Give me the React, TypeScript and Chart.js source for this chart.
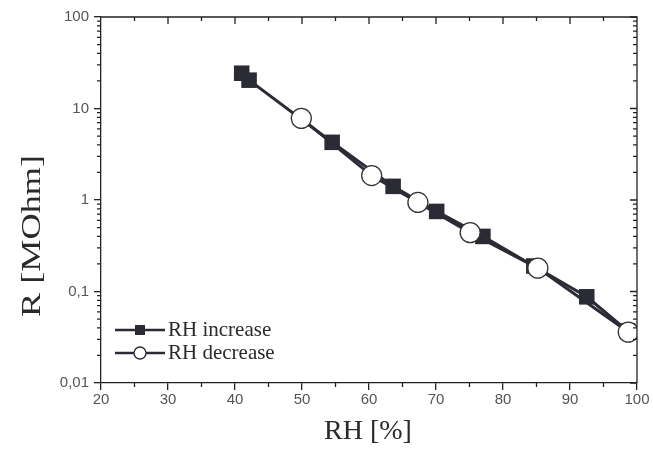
import React, { useEffect, useRef } from "react";
import { Chart, registerables } from "chart.js";

Chart.register(...registerables);

const xIncrease = [41.0, 42.1, 54.5, 63.6, 70.1, 77.0, 84.6, 92.5, 98.6];
const yIncrease = [24.3, 20.4, 4.27, 1.41, 0.75, 0.40, 0.19, 0.0875, 0.037];
const xDecrease = [49.9, 60.4, 67.3, 75.1, 85.2, 98.7];
const yDecrease = [7.8, 1.85, 0.94, 0.44, 0.18, 0.036];
const yMajorTicks = [0.01, 0.1, 1, 10, 100];
const yTickLabels = ["0,01", "0,1", "1", "10", "100"];
const xMinorTicks = [25, 35, 45, 55, 65, 75, 85, 95];
const xMajorTicks = [30, 40, 50, 60, 70, 80, 90];
const seriesLabels = ["RH increase", "RH decrease"];
const xTitle = "RH [%]";
const yTitle = "R [MOhm]";

const INK = "#2b2b36";

const framePlugin = {
  id: "frame",
  afterDraw(chart: any) {
    const ctx = chart.ctx;
    const { left, right, top, bottom } = chart.chartArea;
    const xs = chart.scales.x;
    const ys = chart.scales.y;
    ctx.save();
    ctx.strokeStyle = "#222";
    ctx.lineWidth = 1.3;
    ctx.beginPath();
    ctx.moveTo(left, top);
    ctx.lineTo(right, top);
    ctx.lineTo(right, bottom);
    ctx.stroke();
    ctx.beginPath();
    for (const v of xMinorTicks) {
      const px = xs.getPixelForValue(v);
      ctx.moveTo(px, bottom);
      ctx.lineTo(px, bottom + 4);
      ctx.moveTo(px, top);
      ctx.lineTo(px, top + 4);
    }
    for (const v of xMajorTicks) {
      const px = xs.getPixelForValue(v);
      ctx.moveTo(px, top);
      ctx.lineTo(px, top + 7);
    }
    for (let i = 0; i < yMajorTicks.length - 1; i++) {
      for (let m = 2; m <= 9; m++) {
        const py = ys.getPixelForValue(yMajorTicks[i] * m);
        ctx.moveTo(left - 4, py);
        ctx.lineTo(left, py);
        ctx.moveTo(right - 4, py);
        ctx.lineTo(right, py);
      }
    }
    for (const v of yMajorTicks) {
      const py = ys.getPixelForValue(v);
      ctx.moveTo(right - 7, py);
      ctx.lineTo(right, py);
    }
    ctx.stroke();

    // axis titles
    ctx.fillStyle = "#2a2a2a";
    ctx.font = '28px "Liberation Serif"';
    ctx.textAlign = "center";
    ctx.textBaseline = "middle";
    ctx.fillText(xTitle, 368, 432);
    ctx.save();
    ctx.translate(33, 236);
    ctx.rotate(-Math.PI / 2);
    ctx.font = '27px "Liberation Serif"';
    const w = ctx.measureText(yTitle).width;
    ctx.scale(162 / w, 1);
    ctx.fillText(yTitle, 0, 0);
    ctx.restore();

    // legend
    const rows = [330, 353];
    rows.forEach((ry, i) => {
      ctx.strokeStyle = INK;
      ctx.lineWidth = 2.5;
      ctx.beginPath();
      ctx.moveTo(115, ry);
      ctx.lineTo(165, ry);
      ctx.stroke();
      if (i === 0) {
        ctx.fillStyle = INK;
        ctx.fillRect(135, ry - 5, 10, 10);
      } else {
        ctx.fillStyle = "#fff";
        ctx.lineWidth = 1.3;
        ctx.beginPath();
        ctx.arc(140, ry, 6, 0, Math.PI * 2);
        ctx.fill();
        ctx.stroke();
      }
      ctx.fillStyle = "#2a2a2a";
      ctx.font = '21px "Liberation Serif"';
      ctx.textAlign = "left";
      ctx.textBaseline = "middle";
      ctx.fillText(seriesLabels[i], 168, ry);
    });
    ctx.restore();
  },
};

export default function App() {
  const ref = useRef<HTMLCanvasElement | null>(null);
  useEffect(() => {
    if (!ref.current) return;
    const chart = new Chart(ref.current, {
      type: "line",
      data: {
        datasets: [
          {
            label: seriesLabels[0],
            data: xIncrease.map((x, i) => ({ x, y: yIncrease[i] })),
            borderColor: INK,
            backgroundColor: INK,
            borderWidth: 3,
            pointStyle: "rect",
            pointRadius: 11,
            pointBorderWidth: 0,
            pointBackgroundColor: INK,
            order: 1,
          },
          {
            label: seriesLabels[1],
            data: xDecrease.map((x, i) => ({ x, y: yDecrease[i] })),
            borderColor: INK,
            backgroundColor: "#fff",
            borderWidth: 3,
            pointStyle: "circle",
            pointRadius: 10,
            pointBorderWidth: 1.3,
            pointBorderColor: "#333",
            pointBackgroundColor: "#fff",
            order: 0,
          },
        ],
      },
      options: {
        responsive: false,
        animation: false,
        layout: { padding: { top: 17, right: 16, left: 0, bottom: 0 } },
        plugins: { legend: { display: false }, tooltip: { enabled: false } },
        scales: {
          x: {
            type: "linear",
            min: 20,
            max: 100,
            afterFit: (s: any) => {
              s.height = 67;
            },
            ticks: {
              stepSize: 10,
              padding: 1,
              color: "#555",
              font: { family: '"Liberation Sans"', size: 15 },
            },
            grid: {
              display: true,
              drawOnChartArea: false,
              drawTicks: true,
              tickLength: 7,
              color: "#222",
              lineWidth: 1.3,
            },
            border: { display: true, color: "#222", width: 1.3 },
          },
          y: {
            type: "logarithmic",
            min: 0.01,
            max: 100,
            afterFit: (s: any) => {
              s.width = 101;
            },
            afterBuildTicks: (s: any) => {
              s.ticks = yMajorTicks.map((v) => ({ value: v }));
            },
            ticks: {
              padding: 5,
              color: "#555",
              font: { family: '"Liberation Sans"', size: 15 },
              callback: (v: any) => {
                const idx = yMajorTicks.findIndex((t) => Math.abs(t - v) < t * 1e-6);
                return idx >= 0 ? yTickLabels[idx] : "";
              },
            },
            grid: {
              display: true,
              drawOnChartArea: false,
              drawTicks: true,
              tickLength: 7,
              color: "#222",
              lineWidth: 1.3,
            },
            border: { display: true, color: "#222", width: 1.3 },
          },
        },
      },
      plugins: [framePlugin],
    });
    return () => chart.destroy();
  }, []);
  return (
    <div style={{ position: "fixed", left: 0, top: 0, width: 653, height: 450, background: "#fff" }}>
      <canvas ref={ref} width={653} height={450} style={{ width: 653, height: 450 }} />
    </div>
  );
}
